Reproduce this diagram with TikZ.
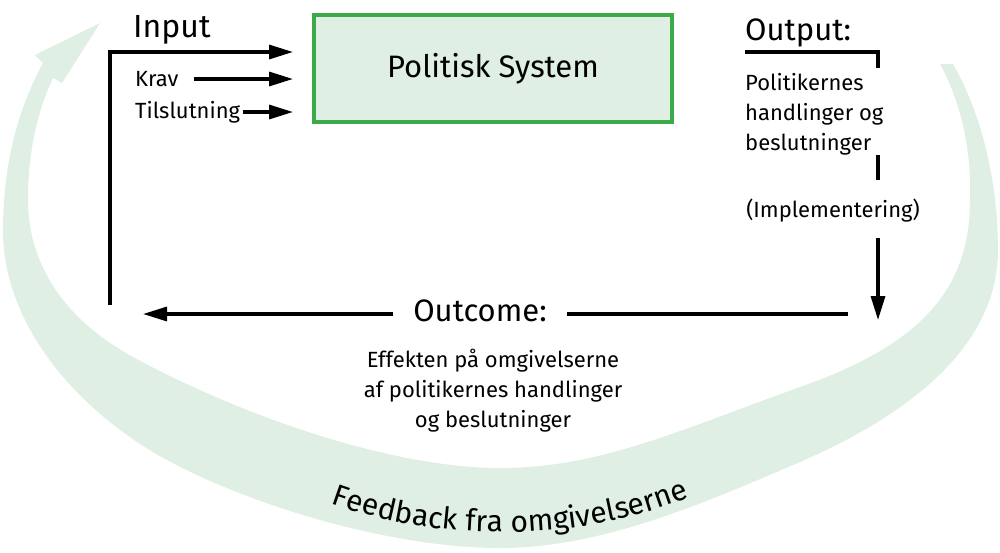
\documentclass[tikz,border=0pt]{standalone}
\usepackage{fontspec}
\setmainfont{Fira Sans}
\usetikzlibrary{arrows.meta,decorations.text,calc}
\definecolor{ribbon}{RGB}{223,239,227}
\definecolor{boxgreen}{RGB}{61,170,74}
\begin{document}
\begin{tikzpicture}[x=1pt,y=-1pt,
  line/.style={line width=3.2pt},
  arr/.style={line, -{Triangle[length=24pt,width=14pt]}},
  big/.style={font=\fontsize{31}{34}\selectfont, inner sep=0pt},
  small/.style={font=\fontsize{22}{30}\selectfont, inner sep=0pt},
]
\useasboundingbox (0,0) rectangle (1000,552);
% feedback ribbon
\fill[ribbon] (953,64) .. controls (985,120) and (998,190) .. (998,250)
  .. controls (998,340) and (920,410) .. (800,462)
  .. controls (700,505) and (600,548) .. (500,548)
  .. controls (390,548) and (250,505) .. (167,460)
  .. controls (84,415) and (3,330) .. (3,230)
  .. controls (3,160) and (20,105) .. (43,63)
  -- (35,55) -- (100,23) -- (62,83) -- (53,78)
  .. controls (38,110) and (28,150) .. (28,200)
  .. controls (28,260) and (60,317) .. (133,357)
  .. controls (240,415) and (390,468) .. (500,468)
  .. controls (600,468) and (680,430) .. (800,387)
  .. controls (920,345) and (970,290) .. (970,200)
  .. controls (972,150) and (960,100) .. (940,64)
  -- cycle;
\path[decorate, decoration={text along path, text align=center,
  text={|\fontsize{30}{36}\selectfont|Feedback fra omgivelserne}}]
  (315,497) .. controls (430,545) and (590,545) .. (705,490);

% system box
\node[draw=boxgreen, line width=4pt, fill=ribbon, minimum width=358pt, minimum height=107pt, big] (sys) at (493,68.5) {Politisk System};

% input
\node[big, anchor=base west, font=\fontsize{32}{34}\selectfont] (input) at (133,37) {Input};
\coordinate (inBot) at (110,305);
\coordinate (inTop) at (110,52);
\draw[arr] (inBot) |- ([xshift=-19pt]sys.west |- inTop);
\node[small, anchor=west] (krav) at (135,79) {Krav};
\node[small, anchor=west] (tils) at (135,112) {Tilslutning};
\draw[arr] ([xshift=15pt]krav.east) -- ([xshift=-19pt]sys.west |- krav.east);
\draw[arr] ([xshift=3pt]tils.east) -- ([xshift=-19pt]sys.west |- tils.east);

% output
\node[big, anchor=base west] (output) at (745,40) {Output:};
\coordinate (oc1) at (745,52);
\coordinate (oc2) at (878,52);
\coordinate (oc3) at (878,68);
\draw[line] (oc1) -- (oc2) -- (oc3);
\node[small, anchor=north west, align=left] (pol) at (745,73) {Politikernes\\handlinger og\\beslutninger};
\coordinate (od1) at (878,155);
\coordinate (od2) at (878,180);
\draw[line] (od1) -- (od2);
\node[small] (impl) at (833,211) {(Implementering)};
\coordinate (oa1) at (878,238);
\coordinate (oa2) at (878,320);
\draw[arr] (oa1) -- (oa2);

% outcome
\node[big] (outc) at (480,311) {Outcome:};
\coordinate (outL) at (143,314);
\coordinate (outR) at (848,314);
\draw[arr] ([xshift=-20pt]outc.west |- outL) -- (outL);
\draw[line] (outR) -- ([xshift=20pt]outc.east |- outR);
\node[small, align=center, anchor=north] (eff) at (493,349) {Effekten på omgivelserne\\af politikernes handlinger\\og beslutninger};
\end{tikzpicture}
\end{document}
